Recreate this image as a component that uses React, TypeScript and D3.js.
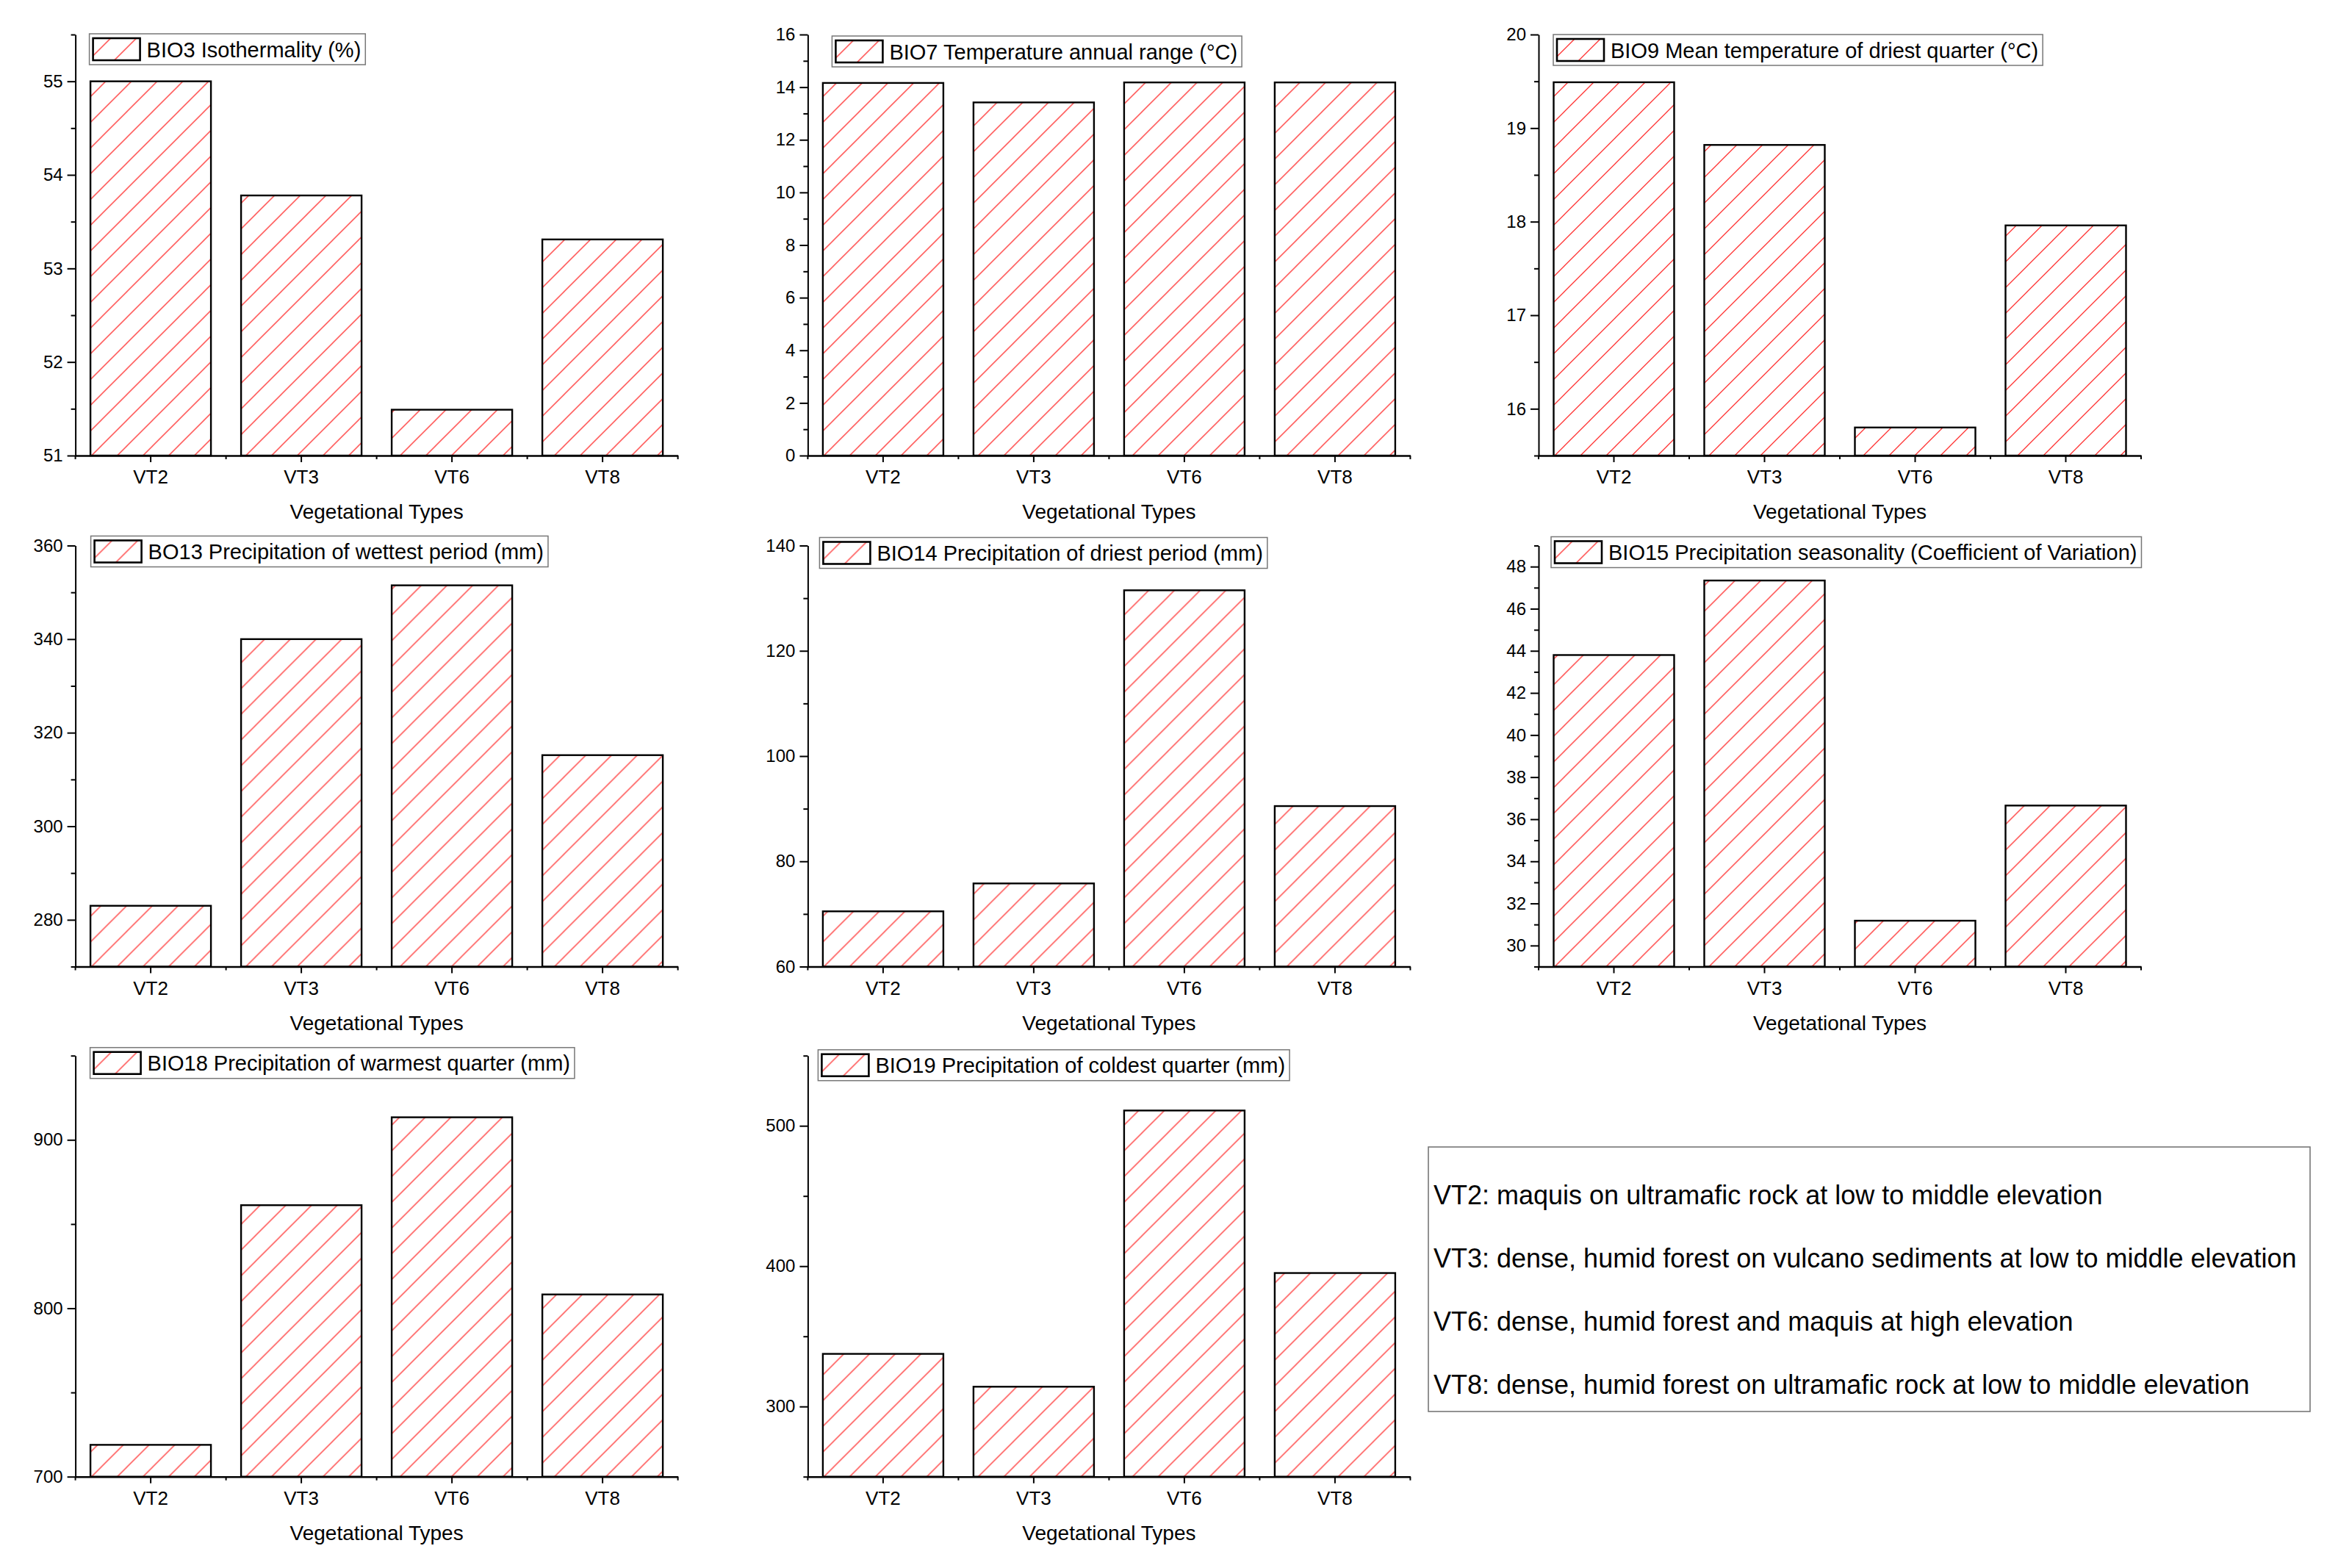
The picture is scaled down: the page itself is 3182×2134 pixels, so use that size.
import React, { useEffect, useRef } from "react";
import * as d3 from "d3";

// categories on every x axis
const categories = ["VT2", "VT3", "VT6", "VT8"];

// bar values
const bio3 = [55.0, 53.78, 51.49, 53.31];
const bio7 = [14.16, 13.42, 14.18, 14.18];
const bio9 = [19.49, 18.82, 15.8, 17.96];
const bio13 = [283.0, 340.0, 351.5, 315.2];
const bio14 = [70.5, 75.8, 131.5, 90.5];
const bio15 = [43.8, 47.34, 31.18, 36.65];
const bio18 = [718.9, 861.2, 913.4, 808.2];
const bio19 = [337.5, 314.1, 510.9, 395.1];

const panelTitles = [
  "BIO3 Isothermality (%)",
  "BIO7 Temperature annual range (°C)",
  "BIO9 Mean temperature of driest quarter (°C)",
  "BO13 Precipitation of wettest period (mm)",
  "BIO14 Precipitation of driest period (mm)",
  "BIO15 Precipitation seasonality (Coefficient of Variation)",
  "BIO18 Precipitation of warmest quarter (mm)",
  "BIO19 Precipitation of coldest  quarter (mm)",
];
const panelValues = [bio3, bio7, bio9, bio13, bio14, bio15, bio18, bio19];
const panelDomains: [number, number][] = [
  [51, 55.5],
  [0, 16],
  [15.5, 20],
  [270, 360],
  [60, 140],
  [29, 49],
  [700, 950],
  [250, 550],
];
const majorSteps = [1, 2, 1, 20, 20, 2, 100, 100];
const minorSteps = [0.5, 1, 0.5, 10, 10, 1, 50, 50];

const xTitle = "Vegetational Types";

const descriptions = [
  "VT2: maquis on ultramafic rock at low to middle elevation",
  "VT3: dense, humid forest on vulcano sediments at low to middle elevation",
  "VT6: dense, humid forest and maquis at high elevation",
  "VT8: dense, humid forest on ultramafic rock at low to middle elevation",
];

const WIDTH = 3182;
const HEIGHT = 2134;
const FONT = "'Liberation Sans', Arial, Helvetica, sans-serif";

// layout of the 3x3 grid (last cell holds the description box)
const colX = [102.6, 1099.4, 2094];
const rowY = [47, 742.5, 1436.7];
const plotW = 820;
const plotH = 573;
// legend offsets relative to each plot's top-left corner
const legendOffsets: [number, number][] = [
  [19, -1],
  [33, 2],
  [20, 0],
  [21, -13],
  [16, -11],
  [17, -12],
  [20, -11],
  [14, -8],
];

function stepValues(domain: [number, number], step: number) {
  const out: number[] = [];
  const start = Math.ceil(domain[0] / step - 1e-9);
  const end = Math.floor(domain[1] / step + 1e-9);
  for (let k = start; k <= end; k++) out.push(+(k * step).toFixed(6));
  return out;
}

const App: React.FC = () => {
  const svgRef = useRef<SVGSVGElement>(null);

  useEffect(() => {
    if (!svgRef.current) return;
    const svg = d3.select(svgRef.current);
    svg.selectAll("*").remove();

    // red diagonal hatch
    const hs = 35;
    const defs = svg.append("defs");
    defs
      .append("pattern")
      .attr("id", "hatch")
      .attr("patternUnits", "userSpaceOnUse")
      .attr("width", hs)
      .attr("height", hs)
      .append("path")
      .attr(
        "d",
        `M0,${hs} L${hs},0 M${-hs / 4},${hs / 4} L${hs / 4},${-hs / 4} M${
          (hs * 3) / 4
        },${(hs * 5) / 4} L${(hs * 5) / 4},${(hs * 3) / 4}`
      )
      .attr("stroke", "#ff3030")
      .attr("stroke-width", 1.3)
      .attr("fill", "none");

    svg
      .append("rect")
      .attr("width", WIDTH)
      .attr("height", HEIGHT)
      .attr("fill", "#fff");

    panelValues.forEach((values, p) => {
      const col = p % 3;
      const row = Math.floor(p / 3);
      const domain = panelDomains[p];

      const g = svg
        .append("g")
        .attr("transform", `translate(${colX[col]},${rowY[row]})`)
        .attr("font-family", FONT);

      const x = d3
        .scaleBand()
        .domain(categories)
        .range([0, plotW])
        .paddingInner(0.2)
        .paddingOuter(0.1);

      const y = d3.scaleLinear().domain(domain).range([plotH, 0]);

      // bars
      g.append("g")
        .selectAll("rect")
        .data(values)
        .join("rect")
        .attr("x", (_, i) => x(categories[i])!)
        .attr("y", (d) => y(d))
        .attr("width", x.bandwidth())
        .attr("height", (d) => plotH - y(d))
        .attr("fill", "url(#hatch)")
        .attr("stroke", "#000")
        .attr("stroke-width", 2.4);

      const majors = stepValues(domain, majorSteps[p]);
      const minors = stepValues(domain, minorSteps[p]).filter(
        (v) => !majors.some((m) => Math.abs(m - v) < 1e-6)
      );

      // y minor ticks
      g.append("g")
        .call(
          d3
            .axisLeft(y)
            .tickValues(minors)
            .tickSize(6)
            .tickFormat(() => "")
        )
        .call((a) => a.select(".domain").remove())
        .call((a) => a.selectAll("line").attr("stroke-width", 2));

      // y major ticks + labels
      g.append("g")
        .call(
          d3
            .axisLeft(y)
            .tickValues(majors)
            .tickSize(11)
            .tickPadding(6)
            .tickSizeOuter(0)
            .tickFormat(d3.format("~g"))
        )
        .attr("font-size", 24)
        .attr("font-family", FONT)
        .call((a) => a.select(".domain").attr("stroke-width", 2))
        .call((a) => a.selectAll("line").attr("stroke-width", 2));

      // x axis
      const xa = g
        .append("g")
        .attr("transform", `translate(0,${plotH})`)
        .call(d3.axisBottom(x).tickSize(9).tickPadding(11).tickSizeOuter(0))
        .attr("font-size", 26)
        .attr("font-family", FONT)
        .call((a) => a.select(".domain").attr("stroke-width", 2.4))
        .call((a) => a.selectAll("line").attr("stroke-width", 2));

      // minor ticks at category boundaries
      const half = (x.step() * x.paddingInner()) / 2;
      const bounds = categories
        .map((c) => x(c)! - half)
        .concat([x(categories[categories.length - 1])! + x.bandwidth() + half]);
      xa.append("g")
        .selectAll("line")
        .data(bounds)
        .join("line")
        .attr("x1", (d) => d)
        .attr("x2", (d) => d)
        .attr("y1", 0)
        .attr("y2", 5)
        .attr("stroke", "#000")
        .attr("stroke-width", 2);

      // x title
      g.append("text")
        .attr("x", plotW / 2)
        .attr("y", plotH + 86)
        .attr("text-anchor", "middle")
        .attr("font-size", 28)
        .attr("fill", "#000")
        .text(xTitle);

      // legend
      const [lx, ly] = legendOffsets[p];
      const lg = g.append("g").attr("transform", `translate(${lx},${ly})`);
      const box = lg
        .append("rect")
        .attr("x", 0)
        .attr("y", 0)
        .attr("height", 42)
        .attr("fill", "#fff")
        .attr("stroke", "#777")
        .attr("stroke-width", 1.5);
      lg.append("rect")
        .attr("x", 5)
        .attr("y", 6)
        .attr("width", 64)
        .attr("height", 30)
        .attr("fill", "url(#hatch)")
        .attr("stroke", "#000")
        .attr("stroke-width", 2.6);
      const lt = lg
        .append("text")
        .attr("x", 78)
        .attr("y", 31.5)
        .attr("font-size", 29)
        .attr("fill", "#000")
        .text(panelTitles[p]);
      const tw = (lt.node() as SVGTextElement).getComputedTextLength();
      box.attr("width", 78 + tw + 6);
    });

    // description box
    const dg = svg.append("g").attr("font-family", FONT);
    dg.append("rect")
      .attr("x", 1944)
      .attr("y", 1561)
      .attr("width", 1200)
      .attr("height", 360)
      .attr("fill", "#fff")
      .attr("stroke", "#777")
      .attr("stroke-width", 1.6);
    dg.selectAll("text")
      .data(descriptions)
      .join("text")
      .attr("x", 1951)
      .attr("y", (_, i) => 1639 + i * 86)
      .attr("font-size", 36)
      .attr("fill", "#000")
      .text((d) => d);
  }, []);

  return (
    <svg
      ref={svgRef}
      width={WIDTH}
      height={HEIGHT}
      style={{ position: "absolute", left: 0, top: 0, display: "block" }}
    />
  );
};

export default App;
